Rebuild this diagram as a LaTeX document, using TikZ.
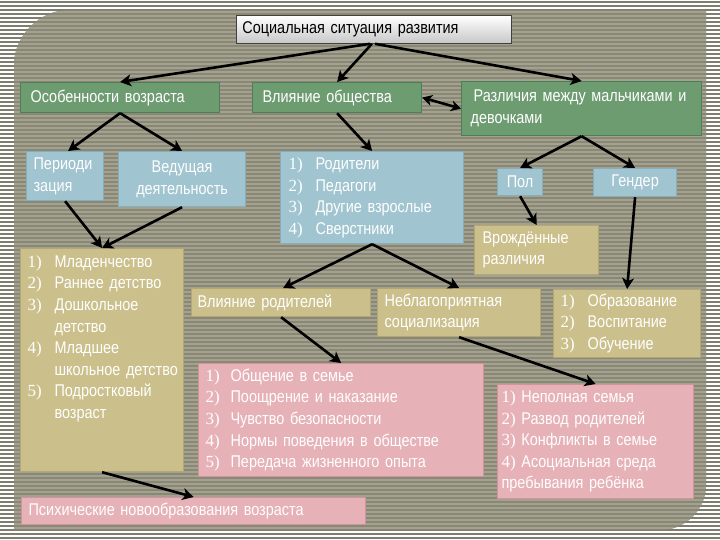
\documentclass[tikz,border=0pt]{standalone}
\usepackage{fontspec}
\setmainfont{Liberation Sans}[FakeStretch=0.85]
\newfontfamily\numfont{Liberation Serif}
\usetikzlibrary{arrows.meta}
\definecolor{outdark}{HTML}{7E7E70}
\definecolor{panel}{HTML}{8A8875}
\definecolor{panellt}{HTML}{A3A190}
\definecolor{grn}{HTML}{6E9C71}
\definecolor{grnd}{HTML}{4E7E55}
\definecolor{blu}{HTML}{A0C4D0}
\definecolor{blud}{HTML}{86AEBC}
\definecolor{tan}{HTML}{CBBF8B}
\definecolor{tand}{HTML}{B3A874}
\definecolor{pnk}{HTML}{E6B1B7}
\definecolor{pnkd}{HTML}{D1949C}
\newcommand\fs{\fontsize{17}{21.6}\selectfont}
\newcommand\nm[1]{{\numfont #1}}
\begin{document}
\begin{tikzpicture}[x=1pt,y=-1pt,
  box/.style={anchor=north west, inner ysep=0pt, align=left, font=\fs, text=white, line width=1.2pt},
  gbox/.style={box, fill=grn, draw=grnd},
  bbox/.style={box, fill=blu, draw=blud},
  tbox/.style={box, fill=tan, draw=tand},
  pbox/.style={box, fill=pnk, draw=pnkd},
  arr/.style={line width=2.6pt, -{Stealth[length=11pt,width=12pt,inset=3pt]}},
  darr/.style={line width=2.6pt, {Stealth[length=10pt,width=11pt,inset=3pt]}-{Stealth[length=10pt,width=11pt,inset=3pt]}}]
\useasboundingbox (0,0) rectangle (720,540);
% background stripes
\fill[white] (0,0) rectangle (720,540);
\foreach \i in {0,...,134}{\fill[outdark] (0,{4*\i+1}) rectangle (720,{4*\i+3});}
\path[fill=panel] (14,530) -- (14,65) .. controls (14,35) and (40,10) .. (69,10) -- (706,10) -- (706,485) .. controls (706,510) and (685,530) .. (661,530) -- cycle;
\begin{scope}
\clip (14,530) -- (14,65) .. controls (14,35) and (40,10) .. (69,10) -- (706,10) -- (706,485) .. controls (706,510) and (685,530) .. (661,530) -- cycle;
\foreach \i in {0,...,134}{\fill[panellt] (0,{4*\i+3}) rectangle (720,{4*\i+4.6});}
\end{scope}
% nodes
\node[box, text=black, draw=black!75, line width=0.8pt, top color=white, bottom color=black!22, text width=263pt, inner xsep=6pt, minimum height=28pt] (title) at (236,15) {Социальная ситуация развития};
\node[gbox, text width=179pt, inner xsep=10pt, minimum height=30pt] (osob) at (20,82) {Особенности возраста};
\node[gbox, text width=149pt, inner xsep=10pt, minimum height=30pt] (vlob) at (252,82) {Влияние общества};
\node[gbox, text width=222pt, inner xsep=9pt, minimum height=54pt] (razl) at (461,81) {\hspace{3pt}Различия между мальчиками и\\девочками};
\node[bbox, text width=63pt, inner xsep=7pt, minimum height=49pt] (period) at (26,151) {Периоди\\зация};
\node[bbox, align=center, text width=113pt, inner xsep=7pt, minimum height=55pt] (vedush) at (118,151) {Ведущая\\деятельность};
\node[bbox, text width=167pt, inner xsep=8pt, minimum height=92pt] (rod) at (280,151) {\begin{tabular}{@{}p{27pt}@{}l@{}}\nm{1)} & Родители\\ \nm{2)} & Педагоги\\ \nm{3)} & Другие взрослые\\ \nm{4)} & Сверстники\end{tabular}};
\node[bbox, align=center, text width=37pt, inner xsep=4pt, minimum height=27pt] (pol) at (497,168) {Пол};
\node[bbox, align=center, text width=73pt, inner xsep=5pt, minimum height=28pt] (gender) at (593,168) {Гендер};
\node[tbox, text width=108pt, inner xsep=8pt, minimum height=49pt] (vrozh) at (474,225) {Врождённые\\различия};
\node[tbox, text width=149pt, inner xsep=7pt, minimum height=223pt] (mlad) at (20,248) {\begin{tabular}{@{}p{27pt}@{}l@{}}\nm{1)} & Младенчество\\ \nm{2)} & Раннее детство\\ \nm{3)} & Дошкольное\\ & детство\\ \nm{4)} & Младшее\\ & школьное детство\\ \nm{5)} & Подростковый\\ & возраст\\ & \\ & \end{tabular}};
\node[tbox, text width=167pt, inner xsep=6pt, minimum height=28pt] (vlrod) at (191,288) {Влияние родителей};
\node[tbox, text width=149pt, inner xsep=7pt, minimum height=48pt] (nebl) at (377,288) {Неблагоприятная\\социализация};
\node[tbox, text width=133pt, inner xsep=7pt, minimum height=68pt] (obraz) at (553,289) {\begin{tabular}{@{}p{27pt}@{}l@{}}\nm{1)} & Образование\\ \nm{2)} & Воспитание\\ \nm{3)} & Обучение\end{tabular}};
\node[pbox, text width=271pt, inner xsep=7pt, minimum height=113pt] (obsch) at (198,363) {\begin{tabular}{@{}p{25pt}@{}l@{}}\nm{1)} & Общение в семье\\ \nm{2)} & Поощрение и наказание\\ \nm{3)} & Чувство безопасности\\ \nm{4)} & Нормы поведения в обществе\\ \nm{5)} & Передача жизненного опыта\end{tabular}};
\node[pbox, text width=188pt, inner xsep=4pt, minimum height=114pt] (nepol) at (497,384) {\nm{1)} Неполная семья\\ \nm{2)} Развод родителей\\ \nm{3)} Конфликты в семье\\ \nm{4)} Асоциальная среда\\ пребывания ребёнка};
\node[pbox, text width=330pt, inner xsep=7pt, minimum height=27pt] (psih) at (21,497) {Психические новообразования возраста};
% connectors
\draw[arr] ([xshift=-4pt]title.south) -- (osob.north);
\draw[arr] ([xshift=-2pt]title.south) -- (vlob.north);
\draw[arr] ([xshift=1pt]title.south) -- (razl.north);
\draw[darr] (vlob.east) -- (razl.west);
\draw[arr] (osob.south) -- ([xshift=3pt]period.north);
\draw[arr] (osob.south) -- (vedush.north);
\draw[arr] (vlob.south) -- (rod.north);
\draw[arr] (razl.south) -- (pol.north);
\draw[arr] (razl.south) -- (gender.north);
\draw[arr] (period.south) -- (mlad.north);
\draw[arr] (vedush.south) -- (mlad.north);
\draw[arr] (pol.south) -- (vrozh.north);
\draw[arr] (gender.south) -- (obraz.north);
\draw[arr] (rod.south) -- ([xshift=2pt]vlrod.north);
\draw[arr] (rod.south) -- (nebl.north);
\draw[arr] (vlrod.south) -- (obsch.north);
\draw[arr] (nebl.south) -- (nepol.north);
\draw[arr] (mlad.south) -- (psih.north);
\end{tikzpicture}
\end{document}
